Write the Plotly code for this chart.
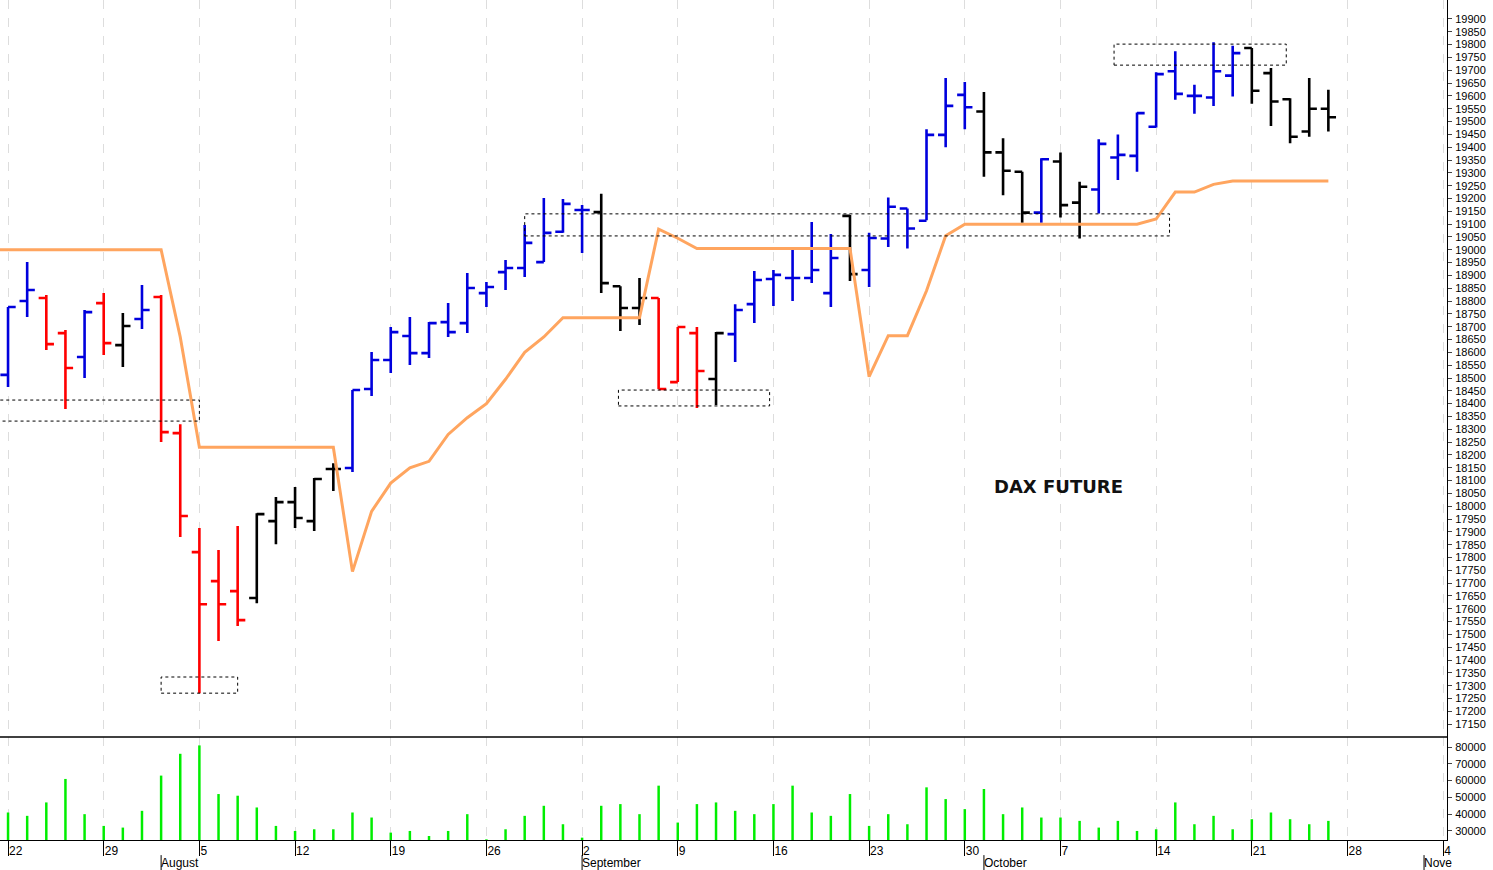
import pandas as pd
import plotly.graph_objects as go

# trading days Jul 22 .. Oct 25 2024, x = index of the day
dates = pd.bdate_range("2024-07-22", "2024-10-25")

opens = [18512, 18800, 18812, 18675, 18582, 18792, 18628, 18730, 18816, 18285,
         17821, 17708, 17669, 17642, 17942, 18016, 17942, 18145, 18149, 18457,
         18570, 18664, 18597, 18718, 18714, 18831, 18913, 18929, 18952, 19070,
         19155, 19147, 18858, 18773, 18812, 18484, 18675, 18496, 18671, 18788,
         18886, 18890, 18890, 18831, 19132, 18921, 19044, 19161, 19113, 19448,
         19604, 19539, 19380, 19304, 19145, 19344, 19184, 19235, 19360, 19366,
         19480, 19696, 19600, 19594, 19679, 19787, 19689, 19587, 19461, 19550]
highs = [18777, 18952, 18824, 18687, 18765, 18831, 18753, 18863, 18824, 18320,
         17915, 17829, 17923, 17973, 18036, 18075, 18110, 18168, 18453, 18601,
         18699, 18738, 18718, 18792, 18909, 18874, 18960, 19097, 19202, 19198,
         19175, 19218, 18858, 18890, 18812, 18699, 18699, 18679, 18788, 18917,
         18921, 18999, 19108, 19062, 19136, 19066, 19204, 19161, 19470, 19670,
         19654, 19615, 19435, 19304, 19357, 19379, 19265, 19431, 19450, 19535,
         19692, 19774, 19644, 19809, 19796, 19787, 19709, 19591, 19670, 19624]
lows = [18465, 18738, 18609, 18379, 18500, 18590, 18543, 18691, 18250, 17880,
        17271, 17474, 17533, 17622, 17852, 17915, 17903, 18059, 18133, 18430,
        18519, 18551, 18578, 18660, 18675, 18777, 18843, 18894, 18952, 19066,
        18987, 18831, 18683, 18707, 18457, 18484, 18383, 18395, 18562, 18714,
        18781, 18800, 18870, 18777, 18878, 18855, 19011, 19005, 19115, 19400,
        19470, 19285, 19213, 19105, 19105, 19126, 19044, 19141, 19272, 19304,
        19477, 19585, 19530, 19561, 19598, 19569, 19483, 19415, 19441, 19461]
closes = [18777, 18843, 18632, 18539, 18757, 18636, 18703, 18765, 18289, 17962,
          17618, 17618, 17556, 17969, 18016, 17954, 18106, 18145, 18453, 18570,
          18679, 18597, 18714, 18679, 18851, 18855, 18929, 19027, 19066, 19179,
          19155, 18870, 18773, 18812, 18457, 18699, 18527, 18675, 18765, 18882,
          18902, 18890, 18921, 18968, 18905, 19046, 19168, 19083, 19448, 19561,
          19556, 19380, 19308, 19145, 19353, 19174, 19246, 19413, 19370, 19533,
          19685, 19608, 19600, 19696, 19767, 19620, 19578, 19441, 19550, 19517]
bar_colors = list("BBRRBRKBRR" "RRRKKKKKBB" "BBBBBBBBBB" "BKKKRRRKBB"
                  "BBBBKBBBBB" "BKKKBKKBBB" "BBBBBKKKKK")

volumes = [41000, 39000, 47000, 61000, 40000, 33000, 32000, 42000, 63000, 76000,
           81000, 52000, 51000, 44000, 33000, 30000, 31000, 31000, 41000, 38000,
           29000, 30000, 27000, 30000, 40000, 25000, 31000, 39000, 45000, 34000,
           26000, 45000, 46000, 40000, 57000, 35000, 46000, 47000, 42000, 40000,
           46000, 57000, 41000, 39000, 52000, 33000, 40000, 34000, 56000, 49000,
           43000, 55000, 40000, 44000, 38000, 38000, 36000, 32000, 36000, 30000,
           31000, 47000, 34000, 39000, 31000, 37000, 41000, 37000, 34000, 36000]

# orange stop line, starts one day earlier (Jul 19)
stop_x = list(range(-1, 70))
stop_line = [19000] * 10 + [18660] + [18230] * 8 + [
    17745, 17980, 18090, 18150, 18175, 18280, 18345, 18400, 18495, 18600,
    18660, 18735, 18735, 18735, 18735, 18735, 19080, 19045] + [19005] * 9 + [
    18505, 18665, 18665, 18840, 19055] + [19100] * 10 + [
    19120, 19225, 19225, 19255] + [19268] * 6

# dotted boxes: (x0, x1, y0, y1)
boxes = [(-0.6, 10, 18332, 18414), (8, 12, 17271, 17334), (27, 60.7, 19054, 19140),
         (31.9, 39.8, 18391, 18453), (57.8, 66.8, 19720, 19802)]

price_ticks = list(range(17150, 19901, 50))
volume_ticks = [30000, 40000, 50000, 60000, 70000, 80000]
week_x = list(range(0, 76, 5))
week_text = ["22", "29", "5", "12", "19", "26", "2", "9", "16", "23", "30", "7",
             "14", "21", "28", "4"]
month_x = [8, 30, 51, 74]
month_text = ["August", "September", "October", "Nove"]

COLORS = {"B": "#0000dd", "R": "#ff0000", "K": "#000000"}

fig = go.Figure()

for key, col in COLORS.items():
    idx = [i for i, c in enumerate(bar_colors) if c == key]
    fig.add_trace(go.Ohlc(
        x=idx,
        open=[opens[i] for i in idx], high=[highs[i] for i in idx],
        low=[lows[i] for i in idx], close=[closes[i] for i in idx],
        increasing=dict(line=dict(color=col, width=2.6)),
        decreasing=dict(line=dict(color=col, width=2.6)),
        tickwidth=0.4, xaxis="x", yaxis="y", hoverinfo="skip",
    ))

fig.add_trace(go.Scatter(x=stop_x, y=stop_line, mode="lines",
                         line=dict(color="#ffa55f", width=3), yaxis="y"))

fig.add_trace(go.Bar(x=list(range(len(volumes))), y=volumes, base=0, width=0.13,
                     marker=dict(color="#00ee00", line_width=0), yaxis="y2"))

for x0, x1, y0, y1 in boxes:
    fig.add_shape(type="rect", x0=x0, x1=x1, y0=y0, y1=y1, xref="x", yref="y",
                  line=dict(color="black", width=1, dash="dot"))

# panel separator
fig.add_shape(type="line", xref="paper", yref="paper", x0=0, x1=1,
              y0=0.1226, y1=0.1226, line=dict(color="black", width=1.5))

# month row separators and labels
for mx, mt in zip(month_x, month_text):
    fig.add_shape(type="line", xref="x", yref="paper", x0=mx, x1=mx,
                  y0=-0.018, y1=-0.036, line=dict(color="black", width=1))
    fig.add_annotation(x=mx, y=-0.017, xref="x", yref="paper", text=mt,
                       showarrow=False, xanchor="left", yanchor="top", xshift=-2,
                       font=dict(size=12, color="black"))

fig.add_annotation(x=54.9, y=18075, xref="x", yref="y", text="<b>DAX FUTURE</b>",
                   showarrow=False, font=dict(size=18, color="#111111",
                                              family="DejaVu Sans"))

fig.update_layout(
    width=1493, height=870,
    margin=dict(l=0, r=46, t=0, b=30),
    plot_bgcolor="white", paper_bgcolor="white",
    showlegend=False,
    font=dict(family="Liberation Sans", size=11, color="black"),
    xaxis=dict(range=[-0.42, 75.2], rangeslider=dict(visible=False),
               tickvals=week_x, ticktext=week_text, ticks="outside", ticklen=15,
               tickcolor="black", showgrid=True, automargin=False,
               gridcolor="#dddddd", griddash="dash", showline=True,
               linecolor="black", zeroline=False, anchor="y2",
               ticklabelposition="outside right", ticklabelstandoff=0,
               tickfont=dict(size=12)),
    yaxis=dict(domain=[0.1226, 1], range=[17100, 19974], side="right",
               tickvals=price_ticks, ticks="outside", ticklen=4,
               tickformat="d", automargin=False, ticklabelstandoff=1,
               showgrid=False, zeroline=False, showline=True,
               linecolor="black"),
    yaxis2=dict(domain=[0, 0.1226], range=[24600, 86000], side="right",
                tickvals=volume_ticks,
                tickformat="d", automargin=False, ticklabelstandoff=1,
                ticks="outside", ticklen=4, showgrid=False, zeroline=False,
                showline=True, linecolor="black"),
)

# drop the browser's default page margin so the figure fills the window
fig.write_html("out.html", config={"displayModeBar": False},
               post_script="document.body.style.margin='0';")
